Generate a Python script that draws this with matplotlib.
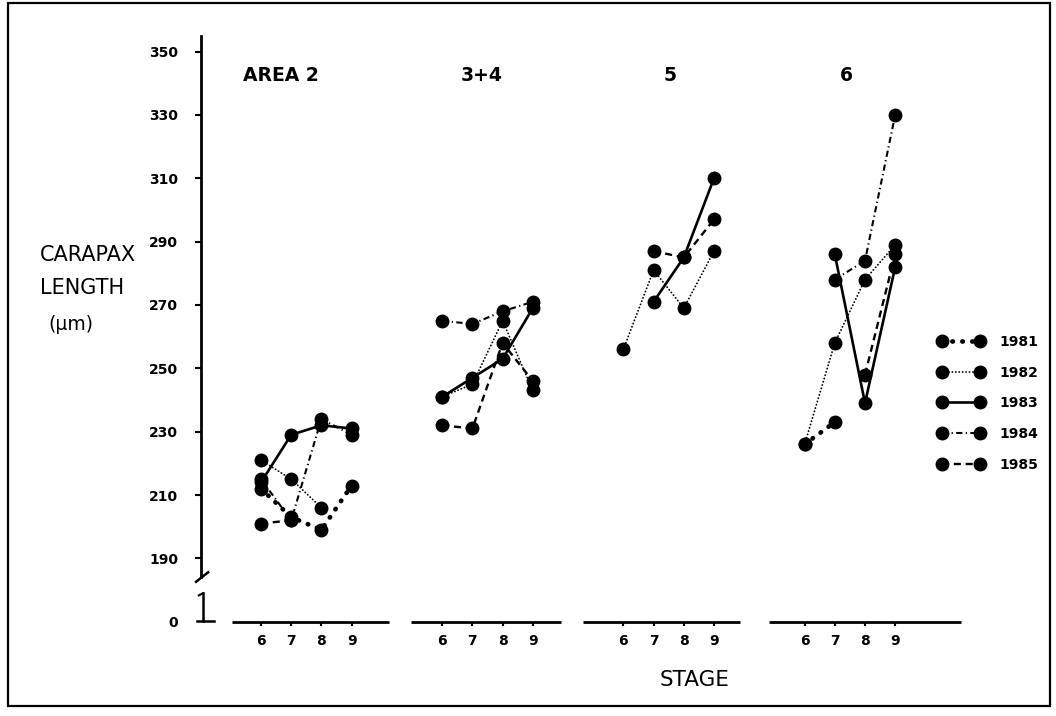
import numpy as np
import matplotlib
matplotlib.use("Agg")
import matplotlib.pyplot as plt
from matplotlib.lines import Line2D
from matplotlib.patches import Rectangle

nan = np.nan

# ---------------- data ----------------
areas = ["AREA 2", "3+4", "5", "6"]
stages = [6, 7, 8, 9]
years = ["1981", "1982", "1983", "1984", "1985"]
y_tick_values = [190, 210, 230, 250, 270, 290, 310, 330, 350]

# carapax length (um) per area (rows) and stage 6..9 (columns)
len_1981 = [[212, 203, 199, 213], [nan, nan, nan, nan], [nan, nan, nan, nan], [226, 233, nan, nan]]
len_1982 = [[221, 215, 206, nan], [241, 245, 265, 243], [256, 281, 269, 287], [226, 258, 278, 289]]
len_1983 = [[214, 229, 232, 231], [241, 247, 253, 269], [nan, 271, 285, 310], [nan, 286, 239, 282]]
len_1984 = [[215, 202, 234, 229], [265, 264, 268, 271], [nan, nan, nan, nan], [nan, 278, 284, 330]]
len_1985 = [[201, 202, nan, nan], [232, 231, 258, 246], [nan, 287, 285, 297], [nan, nan, 248, 286]]
series = [len_1981, len_1982, len_1983, len_1984, len_1985]

# ---------------- styles ----------------
styles = [
    dict(lw=3.4, dashes=(0.1, 2.0), dash_capstyle="round"),   # 1981 heavy dots
    dict(lw=1.3, dashes=(0.1, 1.8), dash_capstyle="round"),   # 1982 fine dotted
    dict(lw=1.9, ls="-"),                                     # 1983 solid
    dict(lw=1.5, dashes=(3.0, 1.6, 0.6, 1.6)),                # 1984 dash-dot
    dict(lw=1.7, dashes=(3.0, 2.0)),                          # 1985 dashed
]

W, H = 1056, 716
plt.rcParams["font.family"] = ["DejaVu Sans"]
fig = plt.figure(figsize=(W / 100, H / 100), dpi=100)

# outer frame
fig.patches.append(Rectangle((8 / W, 1 - 706 / H), (1050 - 8) / W, (706 - 3) / H,
                             transform=fig.transFigure, fill=False, lw=1.6, ec="black"))

ax_left, ax_right, ax_bottom, ax_top = 201, 1040, 621.7, 20
ax = fig.add_axes([ax_left / W, 1 - ax_bottom / H, (ax_right - ax_left) / W, (ax_bottom - ax_top) / H])
px_per_stage = 30.2
x0 = (ax_left - 261) / px_per_stage
ax.set_xlim(x0, x0 + (ax_right - ax_left) / px_per_stage)
ax.set_ylim(170, 359.97)

panel_gap = 6
def xpos(p, s):
    return panel_gap * p + (s - stages[0])

# data lines
for vals, st in zip(series, styles):
    for p in range(len(areas)):
        xs = [xpos(p, s) for s in stages]
        ax.plot(xs, vals[p], color="black", marker="o", ms=9, clip_on=False, **st)

# spines / y axis
for k in ["top", "right", "bottom"]:
    ax.spines[k].set_visible(False)
ax.spines["left"].set_bounds(184.2, 355)
ax.spines["left"].set_linewidth(2)
ax.set_yticks([170] + y_tick_values)
ax.set_yticklabels(["0"] + [str(v) for v in y_tick_values], fontweight="bold", fontsize=10)
ax.tick_params(axis="y", direction="out", length=4.5, width=1.5, pad=12)
ax.yaxis.get_major_ticks()[0].tick1line.set_visible(False)

# x axis: ticks per panel
xt = [xpos(p, s) for p in range(len(areas)) for s in stages]
ax.set_xticks(xt)
ax.set_xticklabels([str(s) for p in range(len(areas)) for s in stages], fontweight="bold", fontsize=10)
ax.tick_params(axis="x", direction="out", length=3, width=1.5, pad=6)

# axis segments per panel
seg_ext = [(-0.97, 4.25), (4.96, 9.92), (10.67, 15.86), (16.83, 23.17)]
for a, b in seg_ext:
    ax.plot([a, b], [170, 170], color="black", lw=2, clip_on=False, solid_capstyle="butt")

# axis break mark and "0" bracket
ax.plot([-2.15, -1.75], [182.6, 185.6], color="black", lw=1.8, clip_on=False)
ax.plot([-1.92, -1.92], [170.2, 179.0], color="black", lw=1.8, clip_on=False)
ax.plot([-2.12, -1.56], [170.2, 170.2], color="black", lw=1.8, clip_on=False)
ax.plot([-2.06, -1.92], [178.3, 179.0], color="black", lw=1.5, clip_on=False)

# panel titles
title_x = [0.66, 7.32, 13.54, 19.37]
for t, xx in zip(areas, title_x):
    ax.text(xx, 342.6, t, ha="center", va="center", fontsize=13.5, fontweight="bold")

# axis labels
fig.text(40 / W, 1 - 255 / H, "CARAPAX", ha="left", va="center", fontsize=15)
fig.text(40 / W, 1 - 288 / H, "LENGTH", ha="left", va="center", fontsize=15)
fig.text(48 / W, 1 - 325 / H, "(\u03bcm)", ha="left", va="center", fontsize=13.5)
fig.text(695 / W, 1 - 680 / H, "STAGE", ha="center", va="center", fontsize=15.5)

# legend
handles = [Line2D([], [], color="black", marker="o", ms=9, **st) for st in styles]
ax.legend(handles, years, numpoints=2, frameon=False, handlelength=3.3, handletextpad=1.1,
          labelspacing=1.2, loc="upper left", bbox_to_anchor=(938 / W, 1 - 335 / H),
          bbox_transform=fig.transFigure, borderpad=0, borderaxespad=0,
          prop=dict(weight="bold", size=10))

fig.savefig("out.png", dpi=100)
